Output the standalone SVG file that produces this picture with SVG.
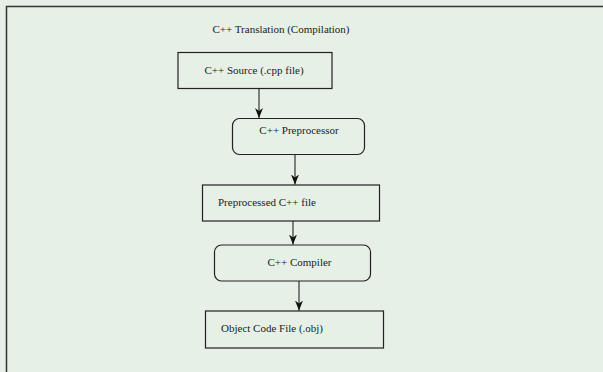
<svg xmlns="http://www.w3.org/2000/svg" width="603" height="372" viewBox="0 0 603 372">
  <defs>
    <marker id="arrow" markerWidth="10" markerHeight="8" refX="10" refY="4" orient="auto" markerUnits="userSpaceOnUse" viewBox="0 0 10 8">
      <path d="M0,0 L10,4 L0,8 L3,4 Z" fill="#111"/>
    </marker>
    <style>
      .box { fill: none; stroke: #222; stroke-width: 1.2; }
      .lbl { font-family: "Liberation Serif", "Times New Roman", serif; font-size: 11px; fill: #222; }
      .edge { stroke: #111; stroke-width: 1; fill: none; marker-end: url(#arrow); }
    </style>
  </defs>
  <rect x="0" y="0" width="603" height="372" fill="#e6f0e6"/>
  <!-- frame: only top and left edges are visible -->
  <path d="M6.5,372 V6.5 H603" fill="none" stroke="#333" stroke-width="1.5"/>
  <text class="lbl" x="281" y="33" text-anchor="middle">C++ Translation (Compilation)</text>

  <g id="source">
    <rect class="box" x="178" y="52.5" width="154" height="36"/>
    <text class="lbl" x="254" y="74" text-anchor="middle">C++ Source (.cpp file)</text>
  </g>
  <g id="preprocessor">
    <rect class="box" x="232.5" y="118.5" width="132" height="36" rx="7"/>
    <text class="lbl" x="299" y="134" text-anchor="middle">C++ Preprocessor</text>
  </g>
  <g id="preprocessed">
    <rect class="box" x="202.5" y="185" width="177" height="36"/>
    <text class="lbl" x="218" y="206">Preprocessed C++ file</text>
  </g>
  <g id="compiler">
    <rect class="box" x="214.5" y="245" width="156" height="36" rx="7"/>
    <text class="lbl" x="299.5" y="266" text-anchor="middle">C++ Compiler</text>
  </g>
  <g id="object">
    <rect class="box" x="205.5" y="311" width="178" height="37"/>
    <text class="lbl" x="221" y="332">Object Code File (.obj)</text>
  </g>

  <g id="connectors">
    <line class="edge" x1="259" y1="89" x2="259" y2="118"/>
    <line class="edge" x1="295" y1="155" x2="295" y2="184.5"/>
    <line class="edge" x1="293" y1="221" x2="293" y2="244.5"/>
    <line class="edge" x1="299" y1="281" x2="299" y2="310.5"/>
  </g>
</svg>
